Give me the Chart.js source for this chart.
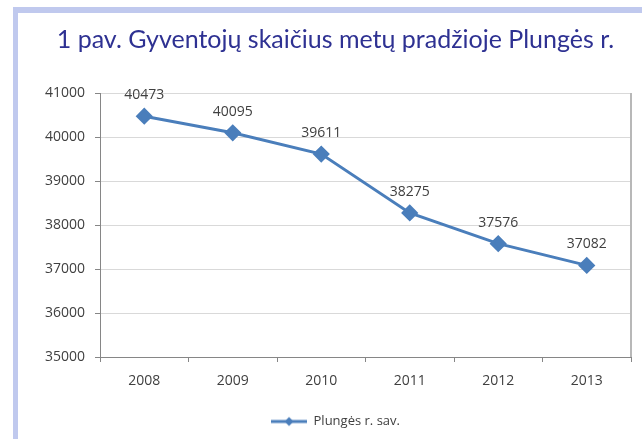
<!DOCTYPE html>
<html>
<head>
<meta charset="utf-8">
<script src="https://cdn.jsdelivr.net/npm/chart.js@4/dist/chart.umd.min.js"></script>
<style>
  body { margin: 0; background: #fff; }
  #wrap { position: relative; width: 642px; height: 439px; overflow: hidden; }
  #barTop { position: absolute; left: 13px; top: 7px; width: 629px; height: 6px; background: #c0c9ee; }
  #barLeft { position: absolute; left: 13px; top: 7px; width: 5px; height: 432px; background: #c0c9ee; }
  #myChart { position: absolute; left: 0; top: 0; }
</style>
</head>
<body>
<div id="wrap">
  <div id="barTop"></div>
  <div id="barLeft"></div>
  <canvas id="myChart" width="642" height="439"></canvas>
</div>
<script>
var years = ["2008", "2009", "2010", "2011", "2012", "2013"];
var population = [40473, 40095, 39611, 38275, 37576, 37082];
var seriesName = "Plungės r. sav.";
var chartTitle = "1 pav. Gyventojų skaičius metų pradžioje Plungės r.";

var lineBlue = '#4a7ebb';
var textGray = '#404040';

// legend icon: line with a diamond in the middle
function legendIcon() {
  var c = document.createElement('canvas');
  c.width = 36;
  c.height = 12;
  var g = c.getContext('2d');
  g.strokeStyle = lineBlue;
  g.lineWidth = 3;
  g.beginPath();
  g.moveTo(0, 6);
  g.lineTo(36, 6);
  g.stroke();
  g.fillStyle = lineBlue;
  g.beginPath();
  g.moveTo(18, 1.5);
  g.lineTo(22.5, 6);
  g.lineTo(18, 10.5);
  g.lineTo(13.5, 6);
  g.closePath();
  g.fill();
  return c;
}

// value labels above the points + right border of the plot area
var extras = {
  id: 'extras',
  afterDatasetsDraw: function(chart) {
    var ctx = chart.ctx;
    var area = chart.chartArea;
    ctx.save();
    ctx.strokeStyle = '#b8b8b8';
    ctx.lineWidth = 2;
    ctx.beginPath();
    ctx.moveTo(area.right, area.top);
    ctx.lineTo(area.right, area.bottom);
    ctx.stroke();

    var meta = chart.getDatasetMeta(0);
    ctx.fillStyle = textGray;
    ctx.font = '14px "Open Sans"';
    ctx.textAlign = 'center';
    ctx.textBaseline = 'middle';
    meta.data.forEach(function(pt, i) {
      ctx.fillText(String(population[i]), pt.x, pt.y - 21);
    });
    ctx.restore();
  }
};

function chartOnLoad() {
  const ctx = document.getElementById('myChart');

  new Chart(ctx, {
    type: 'line',
    data: {
      labels: years,
      datasets: [{
        label: seriesName,
        data: population,
        borderColor: lineBlue,
        backgroundColor: lineBlue,
        borderWidth: 3,
        pointStyle: 'rectRot',
        pointRadius: 6.5,
        pointHoverRadius: 6.5,
        tension: 0
      }]
    },
    options: {
      responsive: false,
      animation: false,
      layout: {
        padding: { left: 40, right: 11, top: 0, bottom: 1 }
      },
      scales: {
        x: {
          offset: true,
          grid: {
            offset: true,
            drawOnChartArea: false,
            tickLength: 5,
            tickColor: '#868686'
          },
          border: { color: '#868686', width: 1 },
          ticks: {
            color: textGray,
            font: { family: 'Open Sans', size: 14 },
            padding: 11,
            maxRotation: 0
          },
          afterFit: function(scale) { scale.height = 48; }
        },
        y: {
          min: 35000,
          max: 41000,
          grid: {
            color: '#d9d9d9',
            tickLength: 5,
            tickColor: '#868686'
          },
          border: { color: '#868686', width: 1 },
          ticks: {
            stepSize: 1000,
            color: textGray,
            font: { family: 'Open Sans', size: 14 },
            padding: 10,
            callback: function(v) { return String(v); }
          },
          afterFit: function(scale) { scale.width = 60; }
        }
      },
      plugins: {
        title: {
          display: true,
          text: chartTitle,
          color: '#2e3192',
          font: { family: 'Lato', size: 25, weight: 'normal' },
          padding: { top: 25, bottom: 38 }
        },
        legend: {
          position: 'bottom',
          labels: {
            usePointStyle: true,
            pointStyle: legendIcon(),
            pointStyleWidth: 36,
            color: textGray,
            font: { family: 'Open Sans', size: 13 },
            padding: 10
          }
        },
        tooltip: { enabled: false }
      }
    },
    plugins: [extras]
  });
}

window.onload = chartOnLoad();
</script>
</body>
</html>
